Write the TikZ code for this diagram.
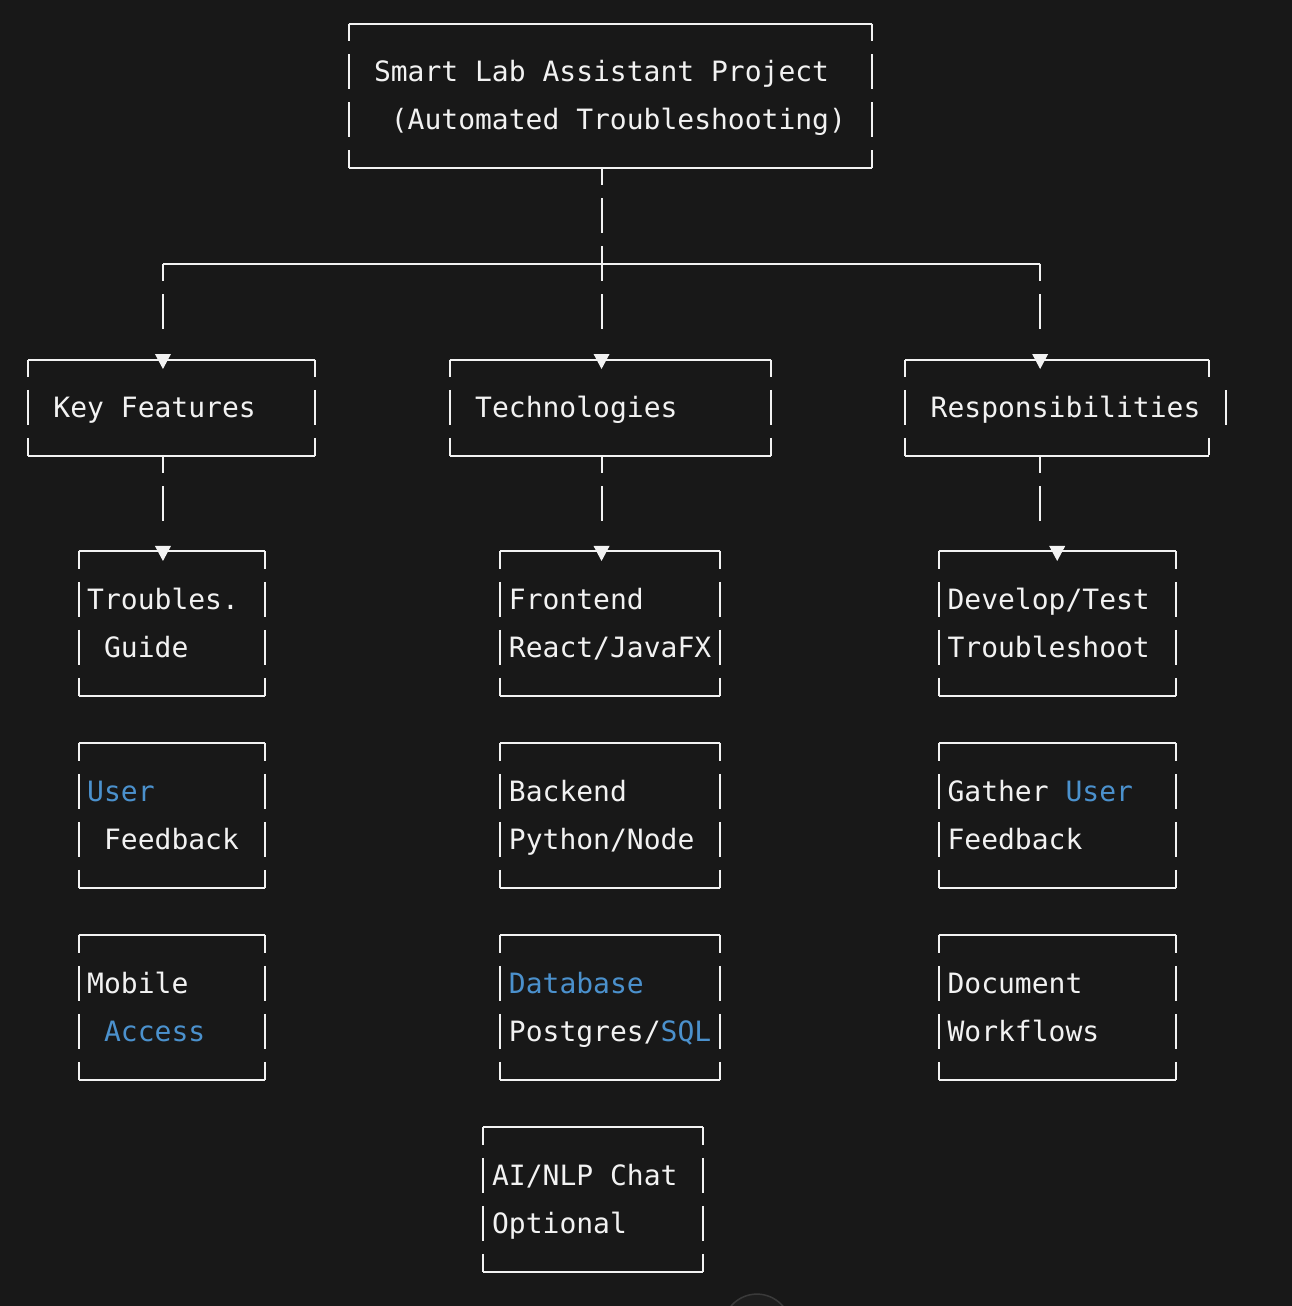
\documentclass[tikz,border=0pt]{standalone}
\usepackage{fontspec}
\setmonofont{DejaVu Sans Mono}
\definecolor{term_bg}{HTML}{181818}
\definecolor{term_fg}{HTML}{F2F2F2}
\definecolor{term_blue}{RGB}{75,145,205}
\definecolor{term_btn}{HTML}{1E1E1E}
\definecolor{term_ring}{HTML}{3A3A3A}
\newcommand\cw{16.87pt}
\newcommand\pad{\phantom{x}}
\newcommand\hl[1]{\textcolor{term_blue}{#1}}
\newcommand\rowstrut{\rule[-6pt]{0pt}{32pt}}
\newcommand\monospace{\spaceskip=16.86pt\relax\xspaceskip=16.86pt\relax}
\newcommand\asciifont{\ttfamily\fontsize{28pt}{48pt}\selectfont\monospace}
\newcommand\asciiframe[1]{%
  \draw[hline] (#1.north west) -- (#1.north east);
  \draw[hline] (#1.south west) -- (#1.south east);
  \draw[vline] (#1.north west) -- (#1.south west);
  \draw[vline] (#1.north east) -- (#1.south east);}

\begin{document}
\begin{tikzpicture}[x=\cw, y=-48pt,
          txt/.style={font=\asciifont,
                      text=term_fg, anchor=north west,
                      inner xsep=0.5*\cw, inner ysep=0pt,
                      execute at begin node=\monospace\rowstrut,
                      execute at end node=\rowstrut},
          cols/.code={\pgfmathsetlengthmacro\boxw{#1*\cw}%
                      \pgfmathsetlengthmacro\textw{(#1-1)*\cw}%
                      \tikzset{minimum width=\boxw, text width=\textw}},
          one/.style={minimum height=96pt},
          two/.style={minimum height=144pt},
          hline/.style={draw=term_fg, line width=2pt},
          vline/.style={hline, dash pattern=on 35pt off 13pt, dash phase=17.5pt},
          conn/.style={vline, shorten >=20pt},
          tipmark/.pic={\fill[term_fg, solid] (-8pt,5.5pt) -- (8pt,5.5pt)
                          -- (0pt,-9.5pt) -- cycle;}]
          \fill[term_bg] (-1.66,-0.49) rectangle (74.93,26.72);
          \useasboundingbox (-1.66,-0.49) rectangle (74.93,26.72);
          \draw[term_ring, fill=term_btn, line width=1.5pt] (43.21,27.18) circle[radius=34pt];

          \node[txt, cols=31, two] (proj) at (19,0)
            {\pad Smart Lab Assistant Project\\\pad\pad(Automated Troubleshooting)};
          \node[txt, cols=17, one] (feat) at (0,7) {\pad Key Features};
          \node[txt, cols=19, one] (tech) at (25,7) {\pad Technologies};
          \node[txt, cols=18, one] (resp) at (52,7) {\pad Responsibilities};

          \node[txt, cols=11, two] (guide) at (3,11) {Troubles.\\\pad Guide};
          \node[txt, cols=11, two] (fback) at (3,15) {\hl{User}\\\pad Feedback};
          \node[txt, cols=11, two] (mobile) at (3,19) {Mobile\\\pad\hl{Access}};
          \node[txt, cols=13, two] (front) at (28,11) {Frontend\\React/JavaFX};
          \node[txt, cols=13, two] (back) at (28,15) {Backend\\Python/Node};
          \node[txt, cols=13, two] (db) at (28,19) {\hl{Database}\\Postgres/\hl{SQL}};
          \node[txt, cols=13, two] (ai) at (27,23) {AI/NLP Chat\\Optional};
          \node[txt, cols=14, two] (dev) at (54,11) {Develop/Test\\Troubleshoot};
          \node[txt, cols=14, two] (gather) at (54,15) {Gather \hl{User}\\Feedback};
          \node[txt, cols=14, two] (docs) at (54,19) {Document\\Workflows};

          \foreach \b in {proj,feat,tech,guide,fback,mobile,front,back,db,ai,dev,gather,docs}
            {\asciiframe{\b}}
          \draw[hline] (resp.north west) -- (resp.north east);
          \draw[hline] (resp.south west) -- (resp.south east);
          \draw[vline] (resp.north west) -- (resp.south west);
          \draw[vline, dash pattern=on 17.5pt off 61pt, dash phase=0pt]
            (resp.north east) -- (resp.south east);
          \draw[hline] ([xshift=\cw, yshift=17.5pt]resp.east)
            -- ([xshift=\cw, yshift=-17.5pt]resp.east);

          \coordinate (jl) at (8,5);
          \coordinate (jm) at (34,5);
          \coordinate (jr) at (60,5);
          \draw[hline] (jl) -- (jr);
          \draw[conn] (jm |- proj.south) -- (jm |- tech.north) pic{tipmark};
          \draw[conn] (jl) -- (jl |- feat.north) pic{tipmark};
          \draw[conn] (jr) -- (jr |- resp.north) pic{tipmark};
          \draw[conn] (jl |- feat.south) -- (jl |- guide.north) pic{tipmark};
          \draw[conn] (jm |- tech.south) -- (jm |- front.north) pic{tipmark};
          \draw[conn, dash pattern=on 17.5pt off 13pt on 35pt off 300pt, dash phase=0pt]
            (jr |- resp.south) -- ++(0,1.5) -| (dev.north) pic{tipmark};
        \end{tikzpicture}
\end{document}
